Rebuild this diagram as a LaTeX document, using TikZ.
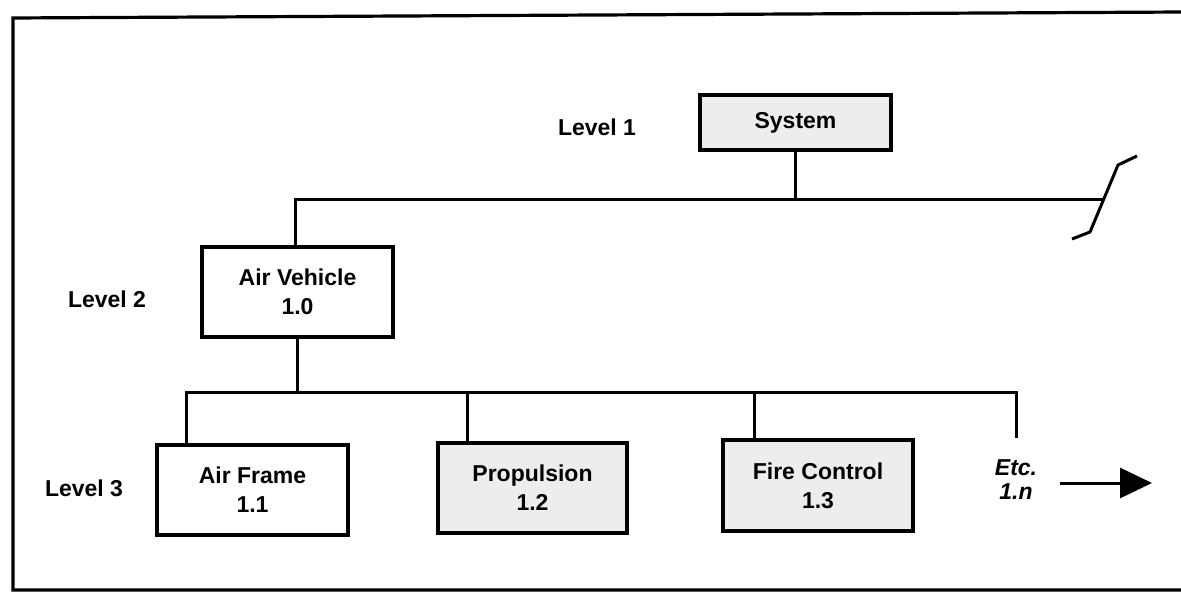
\documentclass[tikz,border=0pt]{standalone}
\usepackage{fontspec}
\setmainfont{Liberation Sans}
\usetikzlibrary{arrows.meta}
\definecolor{speckle}{gray}{0.93}
\begin{document}
\begin{tikzpicture}[x=0.5pt,y=-0.5pt,
  wbs/.style={draw=black,line width=1.6pt,fill=white,inner sep=0pt,align=center,
    font=\fontsize{11.5}{14.5}\selectfont\bfseries},
  shaded/.style={wbs,fill=speckle},
  lvl/.style={font=\fontsize{11.5}{14}\selectfont\bfseries,inner sep=0pt},
  conn/.style={line width=1.5pt},
  frame/.style={line width=1.6pt}]
\useasboundingbox (0,0) rectangle (1181,592);
% outer frame (open to the right)
\draw[frame] (1185,12) -- (13,18) -- (13,590) -- (1185,590);

% nodes
\node[shaded,minimum width=95.5pt,minimum height=27.5pt] (sys) at (795.5,122.5) {System};
\node[wbs,minimum width=95.5pt,minimum height=45pt] (av) at (297.5,292) {Air Vehicle\\1.0};
\node[wbs,minimum width=95.5pt,minimum height=45pt] (af) at (252.5,490) {Air Frame\\1.1};
\node[shaded,minimum width=94.5pt,minimum height=45pt] (pr) at (532.5,488) {Propulsion\\1.2};
\node[shaded,minimum width=95pt,minimum height=45.5pt] (fc) at (818,485.5) {Fire Control\\1.3};
\node[lvl,align=center,font=\fontsize{11.5}{12}\selectfont\bfseries\itshape] (etc) at (1016,480) {Etc.\\1.n};

\node[lvl] (l1) at (597,127) {Level 1};
\node[lvl] (l2) at (107,299) {Level 2};
\node[lvl] (l3) at (84,488) {Level 3};

% level 1 -> level 2 bus
\coordinate (b1) at (295,200);
\coordinate (b1r) at (1103,200);
\draw[conn] (sys.south) -- (sys.south |- b1);
\draw[conn] (av.north -| b1) |- (b1r);
% break symbol
\coordinate (brk1) at (1072,239);
\coordinate (brk2) at (1090,232);
\coordinate (brk3) at (1118,165);
\coordinate (brk4) at (1137,156);
\draw[conn,line join=round] (brk1) -- (brk2) -- (brk3) -- (brk4);

% level 2 -> level 3 bus
\coordinate (b2) at (297,393);
\coordinate (etctop) at (1016,438);
\draw[conn] (av.south -| b2) -- (b2);
\draw[conn] (af.north -| 186,0) |- (etctop |- b2) -- (etctop);
\draw[conn] (pr.north -| 467,0) -- (467,393);
\draw[conn] (fc.north -| 754,0) -- (754,393);

% continuation arrow
\coordinate (arrs) at (1060,483);
\coordinate (arre) at (1152,483);
\draw[conn,-{Triangle[length=16pt,width=15pt]}] (arrs) -- (arre);
\end{tikzpicture}
\end{document}
